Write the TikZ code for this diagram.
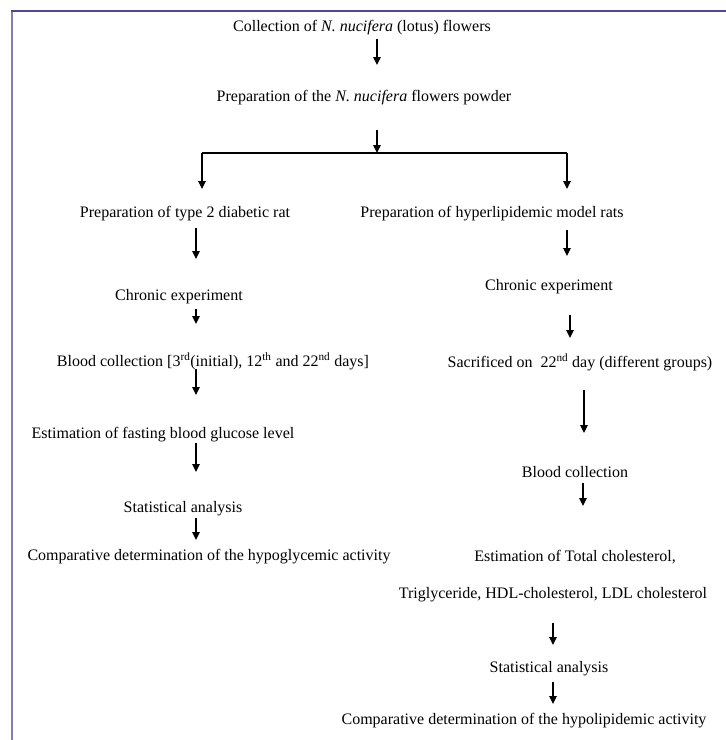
\documentclass[tikz,border=0pt]{standalone}
\usepackage{fontspec}
\setmainfont{Liberation Serif}
\usetikzlibrary{arrows.meta}
\definecolor{frameleft}{RGB}{136,124,184}
\definecolor{frametop}{RGB}{80,72,140}
\begin{document}
\begin{tikzpicture}[x=1pt,y=-1pt,
  lbl/.style={inner sep=0pt,font=\fontsize{16}{19}\selectfont,anchor=center},
  flow/.style={line width=1.3pt,-{Triangle[length=8pt,width=7.5pt]}},
  bar/.style={line width=1.3pt}]
\useasboundingbox (0,0) rectangle (726,740);
\draw[frameleft,line width=2pt] (12,740) -- (12,11);
\draw[frametop,line width=2pt] (11,11) -- (726,11);

\node[lbl] (n1) at (362,28) {Collection of \textit{N. nucifera} (lotus) flowers};
\node[lbl] (n2) at (364,98) {Preparation of the \textit{N. nucifera} flowers powder};
\node[lbl] (l1) at (185,214) {Preparation of type 2 diabetic rat};
\node[lbl] (r1) at (492,214) {Preparation of hyperlipidemic model rats};
\node[lbl] (l2) at (179,297) {Chronic experiment};
\node[lbl] (r2) at (549,287) {Chronic experiment};
\node[lbl] (l3) at (213,361) {Blood collection [3\textsuperscript{rd}(initial), 12\textsuperscript{th} and 22\textsuperscript{nd} days]};
\node[lbl] (r3) at (580,362) {Sacrificed on \ 22\textsuperscript{nd} day (different groups)};
\node[lbl] (l4) at (163,435) {Estimation of fasting blood glucose level};
\node[lbl] (r4) at (575,472) {Blood collection};
\node[lbl] (l5) at (183,509) {Statistical analysis};
\node[lbl] (l6) at (209,557) {Comparative determination of the hypoglycemic activity};
\node[lbl] (r5) at (575,557) {Estimation of Total cholesterol,};
\node[lbl] (r6) at (553,595) {Triglyceride, HDL-cholesterol, LDL cholesterol};
\node[lbl] (r7) at (549,669) {Statistical analysis};
\node[lbl] (r8) at (524,721) {Comparative determination of the hypolipidemic activity};

% arrow end points
\coordinate (a1s) at (377,39);  \coordinate (a1e) at (377,65);
\coordinate (a2s) at (377,130); \coordinate (sp)  at (377,153);
\coordinate (spl) at (202,153); \coordinate (spr) at (567,153);
\coordinate (bl)  at (202,189); \coordinate (br)  at (567,189);
\coordinate (a3s) at (196,228); \coordinate (a3e) at (196,259);
\coordinate (b3s) at (567,230); \coordinate (b3e) at (567,256);
\coordinate (a4s) at (196,309); \coordinate (a4e) at (196,324);
\coordinate (b4s) at (570,315); \coordinate (b4e) at (570,338);
\coordinate (a5s) at (196,369); \coordinate (a5e) at (196,395);
\coordinate (b5s) at (584,390); \coordinate (b5e) at (584,433);
\coordinate (a6s) at (196,443); \coordinate (a6e) at (196,472);
\coordinate (b6s) at (583,483); \coordinate (b6e) at (583,506);
\coordinate (a7s) at (196,518); \coordinate (a7e) at (196,540);
\coordinate (b7s) at (553,623); \coordinate (b7e) at (553,645);
\coordinate (b8s) at (553,682); \coordinate (b8e) at (553,704);

\draw[flow] (a1s) -- (a1e);
\draw[flow] (a2s) -- (sp);
\draw[bar] (spl) -- (spr);
\draw[flow] (spl) -- (bl);
\draw[flow] (spr) -- (br);
\draw[flow] (a3s) -- (a3e);
\draw[flow] (b3s) -- (b3e);
\draw[flow] (a4s) -- (a4e);
\draw[flow] (b4s) -- (b4e);
\draw[flow] (a5s) -- (a5e);
\draw[flow] (b5s) -- (b5e);
\draw[flow] (a6s) -- (a6e);
\draw[flow] (b6s) -- (b6e);
\draw[flow] (a7s) -- (a7e);
\draw[flow] (b7s) -- (b7e);
\draw[flow] (b8s) -- (b8e);
\end{tikzpicture}
\end{document}
